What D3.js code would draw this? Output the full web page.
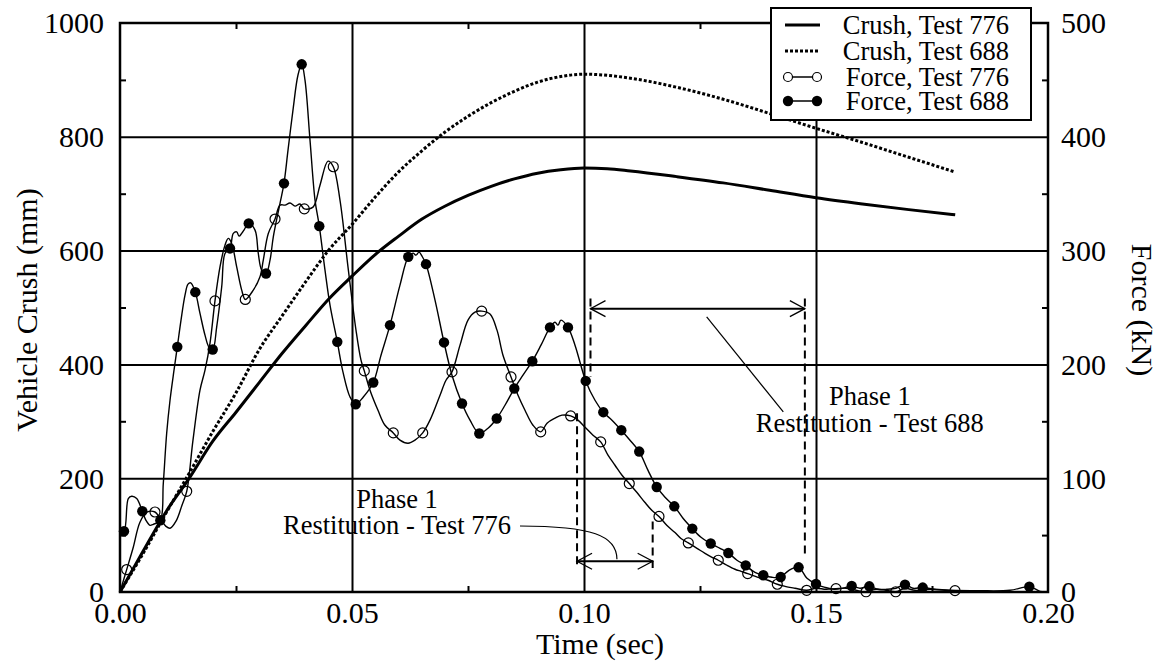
<!DOCTYPE html>
<html>
<head>
<meta charset="utf-8">
<script src="https://cdn.jsdelivr.net/npm/d3@7"></script>
<style>
  body { margin: 0; background: #fff; }
  svg text { font-family: "Liberation Serif", "Times New Roman", serif; fill: #000; }
</style>
</head>
<body>
<svg id="chart" width="1163" height="662"></svg>
<script>
// ---- axis ticks ----
const timeTicks = [0, 0.05, 0.10, 0.15, 0.20];
const timeMinorTicks = [0.025, 0.075, 0.125, 0.175];
const crushTicks = [0, 200, 400, 600, 800, 1000];
const crushMinorTicks = [100, 300, 500, 700, 900];
const forceTicks = [0, 100, 200, 300, 400, 500];

// ---- vehicle crush (mm) ----
const crushTime = [0, 0.005, 0.01, 0.015, 0.02, 0.025, 0.03, 0.035, 0.04, 0.045, 0.05, 0.055, 0.06, 0.065,
  0.07, 0.075, 0.08, 0.085, 0.09, 0.095, 0.10, 0.105, 0.11, 0.12, 0.13, 0.14, 0.15, 0.16, 0.17, 0.18];
const crush776 = [0, 72, 142, 201, 265, 316, 368, 420, 468, 515, 555, 593, 625, 655,
  678, 697, 713, 726, 736, 742, 745, 744, 740, 730, 719, 706, 693, 682, 672, 663];
const crush688 = [0, 68, 140, 210, 282, 350, 426, 486, 545, 601, 646, 694, 738, 775,
  808, 836, 860, 880, 896, 906, 910, 908, 903, 887, 866, 841, 815, 790, 764, 738];

// ---- barrier force (kN), [time s, force kN] ----
const force776 = [
  [0, 0], [0.00144, 19.7], [0.0028, 38.4], [0.0043, 61.3], [0.0058, 70.1], [0.00754, 70.3],
  [0.00862, 64.8], [0.00991, 57.7], [0.01078, 56.0], [0.01207, 62.2], [0.01336, 76.3], [0.01438, 88.5],
  [0.01573, 133.4], [0.01724, 177.4], [0.01832, 194.9], [0.0194, 218.7], [0.02047, 255.8],
  [0.02155, 285.7], [0.02263, 304.8], [0.02334, 310.7], [0.02407, 306.3], [0.02515, 285.7],
  [0.02623, 265.3], [0.027, 257.1], [0.02873, 265.3], [0.03017, 277], [0.03088, 291.6],
  [0.03196, 315.1], [0.03341, 327.7], [0.03448, 340], [0.03556, 340], [0.03664, 341.8],
  [0.03772, 339.1], [0.03879, 340.9], [0.03972, 336.7], [0.0416, 338.2], [0.0431, 357.5],
  [0.04483, 378.6], [0.04597, 373.7], [0.04741, 344.4], [0.04914, 285.5], [0.05086, 230.1],
  [0.05194, 203.7], [0.05265, 194.3], [0.05388, 177.3], [0.0556, 159.7], [0.05711, 146.5],
  [0.0589, 139.8], [0.06034, 133.4], [0.06207, 130.7], [0.06358, 133.4], [0.06524, 139.8],
  [0.06681, 151], [0.06897, 172.9], [0.07026, 186.1], [0.07155, 193.4], [0.07328, 216.9],
  [0.075, 238.9], [0.07651, 245.9], [0.07795, 246.8], [0.07974, 244.2], [0.08125, 230.1],
  [0.08254, 208.1], [0.08427, 189], [0.08578, 172.9], [0.08728, 159.7], [0.08901, 146.5],
  [0.09067, 140.7], [0.09203, 148.3], [0.09375, 152.7], [0.09526, 155.4], [0.09713, 154.7],
  [0.0987, 151], [0.10022, 144.8], [0.10194, 137.8], [0.1036, 131.9], [0.10517, 120.2],
  [0.10668, 111.4], [0.10819, 102.6], [0.10976, 95.3], [0.11142, 87.4], [0.11315, 78.6],
  [0.11466, 71.6], [0.11616, 66.4], [0.11789, 58.4], [0.11961, 52.2], [0.1209, 47],
  [0.12248, 43.1], [0.12435, 38.4], [0.12608, 34], [0.12759, 30.5], [0.12894, 27.9],
  [0.13082, 23.5], [0.13254, 20], [0.13384, 18.2], [0.13528, 16.2], [0.1375, 12.9],
  [0.13966, 10.3], [0.14166, 6.8], [0.14332, 5], [0.14547, 3.3], [0.14799, 1.5], [0.15, 3.3],
  [0.15216, 2.4], [0.15431, 3], [0.15647, 3.3], [0.15862, 1.5], [0.16078, 0.2], [0.16293, 2.4],
  [0.16509, 1.5], [0.16718, 0.2], [0.16918, 3.3], [0.17134, 1.5], [0.17457, 2.4], [0.1778, 1.5],
  [0.17996, 1.2], [0.1821, 1], [0.1849, 0.6]
];
const force776Marks = [
  [0.00144, 19.7], [0.00754, 70.3], [0.01438, 88.5], [0.02047, 255.8], [0.027, 257.1],
  [0.03341, 327.7], [0.03972, 336.7], [0.04597, 373.7], [0.05265, 194.3], [0.0589, 139.8],
  [0.06524, 139.8], [0.07155, 193.4], [0.07795, 246.8], [0.08427, 189], [0.09067, 140.7],
  [0.09713, 154.7], [0.1036, 131.9], [0.10976, 95.3], [0.11616, 66.4], [0.12248, 43.1],
  [0.12894, 27.9], [0.13528, 16.2], [0.14166, 6.8], [0.14799, 1.5], [0.15431, 3],
  [0.16078, 0.2], [0.16718, 0.2], [0.17996, 1.2]
];

const force688 = [
  [0, 53.3], [0.00086, 53.4], [0.00179, 82.1], [0.00252, 84.1], [0.0036, 82.1], [0.00481, 71],
  [0.0056, 63], [0.00647, 58.6], [0.00718, 59.5], [0.00869, 63], [0.00933, 95.3], [0.01006, 139.5],
  [0.01078, 168.5], [0.01164, 194.9], [0.01235, 215.4], [0.01315, 238.9], [0.01401, 260.9],
  [0.01466, 270.5], [0.01524, 271.7], [0.01623, 263.5], [0.01724, 244.8], [0.01832, 225.7],
  [0.01918, 215.1], [0.01998, 213.1], [0.02084, 233], [0.02192, 268.2], [0.02263, 297.5],
  [0.02371, 301.9], [0.02442, 315.1], [0.02515, 316.5], [0.02565, 312.7], [0.02623, 315.1],
  [0.02672, 318], [0.02774, 323.9], [0.0291, 318], [0.0298, 297.5], [0.03054, 282.8],
  [0.03147, 279.9], [0.03233, 291.6], [0.03304, 312.1], [0.03448, 341.5], [0.03534, 359.1],
  [0.03621, 388.3], [0.03728, 423.5], [0.03836, 454.3], [0.03916, 463.7], [0.03987, 449.8],
  [0.04095, 397.1], [0.04203, 344.4], [0.04295, 321.5], [0.04418, 282.8], [0.04526, 252.1],
  [0.04683, 219.8], [0.04806, 193.2], [0.04957, 171.4], [0.0508, 165], [0.05244, 171.4],
  [0.05459, 184.1], [0.05625, 208.1], [0.05819, 234.5], [0.06034, 269.7], [0.06213, 294.5],
  [0.06315, 297.8], [0.06379, 296], [0.06444, 298.7], [0.06509, 295.1], [0.06595, 288.1],
  [0.06789, 256.5], [0.06983, 219.3], [0.07155, 190.5], [0.07371, 165.6], [0.07543, 151],
  [0.07744, 139.3], [0.07931, 143.9], [0.08119, 152.5], [0.08297, 164.1], [0.08498, 178.8],
  [0.08685, 190.5], [0.08886, 202.8], [0.09073, 216.9], [0.09267, 232.5], [0.09375, 237.1],
  [0.0944, 234.5], [0.09504, 238.9], [0.09655, 232.5], [0.09806, 216.9], [0.10037, 185.5],
  [0.10237, 168.5], [0.10416, 158], [0.10603, 151], [0.10804, 142.2], [0.10991, 133.4],
  [0.1119, 123.4], [0.1138, 106.9], [0.11567, 92.3], [0.11746, 83.3], [0.11946, 75.3],
  [0.12134, 64.8], [0.12334, 55.7], [0.12522, 48.1], [0.12731, 42.6], [0.12931, 38.4],
  [0.1311, 34.3], [0.13297, 27.9], [0.13485, 23.4], [0.13685, 17.3], [0.13864, 14.7],
  [0.14052, 12.9], [0.14239, 13.2], [0.14418, 19.1], [0.14625, 21.7], [0.14806, 12],
  [0.15, 7], [0.15194, 4.1], [0.15388, 2.4], [0.15582, 3.3], [0.15769, 5.3], [0.15948, 3.3],
  [0.16149, 5], [0.16336, 2.4], [0.1653, 2.4], [0.16724, 3.3], [0.16918, 6.5], [0.1709, 3.3],
  [0.173, 3.9], [0.17565, 2.4], [0.17888, 1.5], [0.18534, 1.1], [0.19181, 1.5], [0.19597, 4.7],
  [0.19828, 0.6], [0.19935, 0.2]
];
const force688Marks = [
  [0.00086, 53.4], [0.00481, 71], [0.00869, 63], [0.01235, 215.4], [0.01623, 263.5],
  [0.01998, 213.1], [0.02371, 301.9], [0.02774, 323.9], [0.03147, 279.9], [0.03534, 359.1],
  [0.03916, 463.7], [0.04295, 321.5], [0.04683, 219.8], [0.0508, 165], [0.05459, 184.1],
  [0.05819, 234.5], [0.06213, 294.5], [0.06595, 288.1], [0.06983, 219.3], [0.07371, 165.6],
  [0.07744, 139.3], [0.08119, 152.5], [0.08498, 178.8], [0.08886, 202.8], [0.09267, 232.5],
  [0.09655, 232.5], [0.10037, 185.5], [0.10416, 158], [0.10804, 142.2], [0.1119, 123.4],
  [0.11567, 92.3], [0.11946, 75.3], [0.12334, 55.7], [0.12731, 42.6], [0.1311, 34.3],
  [0.13485, 23.4], [0.13864, 14.7], [0.14239, 13.2], [0.14625, 21.7], [0.15, 7],
  [0.15769, 5.3], [0.16149, 5], [0.16918, 6.5], [0.173, 3.9], [0.19597, 4.7]
];

// ---- phase 1 restitution intervals: [start s, end s, arrow level kN] ----
const restitution776 = [0.0985, 0.1148, 27];
const restitution688 = [0.1014, 0.1476, 249];

const legendLabels = ["Crush, Test 776", "Crush, Test 688", "Force, Test 776", "Force, Test 688"];

// ---- layout ----
const svg = d3.select("#chart");
const box = { left: 120, right: 1048, top: 23, bottom: 592 };
const W = box.right - box.left, H = box.bottom - box.top;

const x = d3.scaleLinear().domain([0, 0.2]).range([box.left, box.right]);
const yCrush = d3.scaleLinear().domain([0, 1000]).range([box.bottom, box.top]);
const yForce = d3.scaleLinear().domain([0, 500]).range([box.bottom, box.top]);

// grid lines
const grid = svg.append("g").attr("class", "grid");
grid.append("g").attr("transform", `translate(0,${box.bottom})`)
  .call(d3.axisBottom(x).tickValues(timeTicks.slice(1, -1)).tickSize(-H).tickFormat(""))
  .call(g => g.select(".domain").remove());
grid.append("g").attr("transform", `translate(${box.left},0)`)
  .call(d3.axisLeft(yCrush).tickValues(crushTicks.slice(1, -1)).tickSize(-W).tickFormat(""))
  .call(g => g.select(".domain").remove());
grid.selectAll("line").attr("stroke", "#000").attr("stroke-width", 2);

// minor ticks on all four sides
function minor(axisFn, scale, vals, tx, ty) {
  svg.append("g").attr("transform", `translate(${tx},${ty})`)
    .call(axisFn(scale).tickValues(vals).tickSize(-6).tickFormat(""))
    .call(g => g.select(".domain").remove())
    .selectAll("line").attr("stroke", "#000").attr("stroke-width", 2);
}
minor(d3.axisBottom, x, timeMinorTicks, 0, box.bottom);
minor(d3.axisTop, x, timeMinorTicks, 0, box.top);
minor(d3.axisLeft, yCrush, crushMinorTicks, box.left, 0);
minor(d3.axisRight, yCrush, crushMinorTicks, box.right, 0);

// tick labels
const fs = 30;
svg.append("g").attr("transform", `translate(0,${box.bottom})`)
  .call(d3.axisBottom(x).tickValues(timeTicks).tickSize(0).tickFormat(d3.format(".2f")))
  .call(g => g.select(".domain").remove())
  .selectAll("text").attr("y", 31).attr("dy", 0).attr("font-size", fs);
svg.append("g").attr("transform", `translate(${box.left},0)`)
  .call(d3.axisLeft(yCrush).tickValues(crushTicks).tickSize(0).tickFormat(d3.format("d")))
  .call(g => g.select(".domain").remove())
  .selectAll("text").attr("x", -16).attr("dy", "0.33em").attr("font-size", fs);
svg.append("g").attr("transform", `translate(${box.right},0)`)
  .call(d3.axisRight(yForce).tickValues(forceTicks).tickSize(0).tickFormat(d3.format("d")))
  .call(g => g.select(".domain").remove())
  .selectAll("text").attr("x", 13).attr("dy", "0.33em").attr("font-size", fs);

// axis titles
svg.append("text").attr("x", 600).attr("y", 654).attr("text-anchor", "middle")
  .attr("font-size", fs).text("Time (sec)");
svg.append("text").attr("transform", `translate(37,310) rotate(-90)`).attr("text-anchor", "middle")
  .attr("font-size", fs).text("Vehicle Crush (mm)");
svg.append("text").attr("transform", `translate(1132,310) rotate(90)`).attr("text-anchor", "middle")
  .attr("font-size", fs).text("Force (kN)");

// crush curves
const crushLine = vals => d3.line().x((d, i) => x(crushTime[i])).y(d => yCrush(d)).curve(d3.curveMonotoneX)(vals);
svg.append("path").attr("d", crushLine(crush776)).attr("fill", "none")
  .attr("stroke", "#000").attr("stroke-width", 3);
svg.append("path").attr("d", crushLine(crush688)).attr("fill", "none")
  .attr("stroke", "#000").attr("stroke-width", 3).attr("stroke-dasharray", "3,2");

// force curves
const forceLine = d3.line().x(d => x(d[0])).y(d => yForce(d[1])).curve(d3.curveCatmullRom.alpha(0.5));
svg.append("path").attr("d", forceLine(force776)).attr("fill", "none")
  .attr("stroke", "#000").attr("stroke-width", 1.4);
svg.append("path").attr("d", forceLine(force688)).attr("fill", "none")
  .attr("stroke", "#000").attr("stroke-width", 1.4);

svg.append("g").selectAll("circle").data(force688Marks).join("circle")
  .attr("cx", d => x(d[0])).attr("cy", d => yForce(d[1])).attr("r", 5.2).attr("fill", "#000");
svg.append("g").selectAll("circle").data(force776Marks).join("circle")
  .attr("cx", d => x(d[0])).attr("cy", d => yForce(d[1])).attr("r", 5)
  .attr("fill", "none").attr("stroke", "#000").attr("stroke-width", 1.2);

// frame
svg.append("rect").attr("x", box.left).attr("y", box.top).attr("width", W).attr("height", H)
  .attr("fill", "none").attr("stroke", "#000").attr("stroke-width", 2.5);

// restitution annotations
const ann = svg.append("g").attr("stroke", "#000").attr("fill", "none");
function dashed(t, f0, f1) {
  ann.append("line").attr("x1", x(t)).attr("x2", x(t)).attr("y1", yForce(f0)).attr("y2", yForce(f1))
    .attr("stroke-width", 2).attr("stroke-dasharray", "8,5");
}
function arrow(t0, t1, f) {
  const x0 = x(t0), x1 = x(t1), y = yForce(f);
  ann.append("line").attr("x1", x0).attr("x2", x1).attr("y1", y).attr("y2", y).attr("stroke-width", 2);
  ann.append("path").attr("d", `M${x0 + 15},${y - 8}L${x0},${y}L${x0 + 15},${y + 8}`).attr("stroke-width", 1.3);
  ann.append("path").attr("d", `M${x1 - 15},${y - 8}L${x1},${y}L${x1 - 15},${y + 8}`).attr("stroke-width", 1.3);
}
dashed(restitution776[0], 157, 21);
dashed(restitution776[1], 62, 21);
arrow(restitution776[0], restitution776[1], restitution776[2]);
dashed(restitution688[0], 258, 189);
dashed(restitution688[1], 258, 30);
arrow(restitution688[0], restitution688[1], restitution688[2]);

// leader lines
ann.append("path").attr("stroke-width", 1.2)
  .attr("d", `M${x(0.0862)},${yForce(58)}C${x(0.1017)},${yForce(57.8)} ${x(0.1071)},${yForce(49.9)} ${x(0.1071)},${yForce(28.7)}`);
ann.append("line").attr("stroke-width", 1.2)
  .attr("x1", x(0.12644)).attr("y1", yForce(241.8)).attr("x2", x(0.14295)).attr("y2", yForce(158.3));

function label(t, f1, f2, line2) {
  const g = svg.append("g").attr("font-size", 26.5).attr("text-anchor", "middle");
  g.append("text").attr("x", x(t)).attr("y", yForce(f1)).text("Phase 1");
  g.append("text").attr("x", x(t)).attr("y", yForce(f2)).text(line2);
}
label(0.0597, 73.6, 51.2, "Restitution - Test 776");
label(0.1616, 164.1, 140.7, "Restitution - Test 688");

// legend
const lg = svg.append("g");
lg.append("rect").attr("x", 771).attr("y", 8).attr("width", 260).attr("height", 112)
  .attr("fill", "#fff").attr("stroke", "#000").attr("stroke-width", 2);
const rowY = [25, 51, 77, 101];
legendLabels.forEach((lab, i) => {
  const yy = rowY[i];
  lg.append("text").attr("x", 1009).attr("y", yy).attr("dy", "0.33em").attr("text-anchor", "end")
    .attr("font-size", 26.5).text(lab);
  const ln = lg.append("line").attr("x1", 785).attr("x2", 820).attr("y1", yy).attr("y2", yy).attr("stroke", "#000");
  if (i === 0) ln.attr("stroke-width", 3);
  if (i === 1) ln.attr("stroke-width", 3).attr("stroke-dasharray", "3,2");
  if (i >= 2) ln.attr("stroke-width", 1.4);
  if (i === 2) [788, 817].forEach(cx => lg.append("circle").attr("cx", cx).attr("cy", yy).attr("r", 4.5)
      .attr("fill", "#fff").attr("stroke", "#000").attr("stroke-width", 1.2));
  if (i === 3) [788, 817].forEach(cx => lg.append("circle").attr("cx", cx).attr("cy", yy).attr("r", 5.2).attr("fill", "#000"));
});
</script>
</body>
</html>
